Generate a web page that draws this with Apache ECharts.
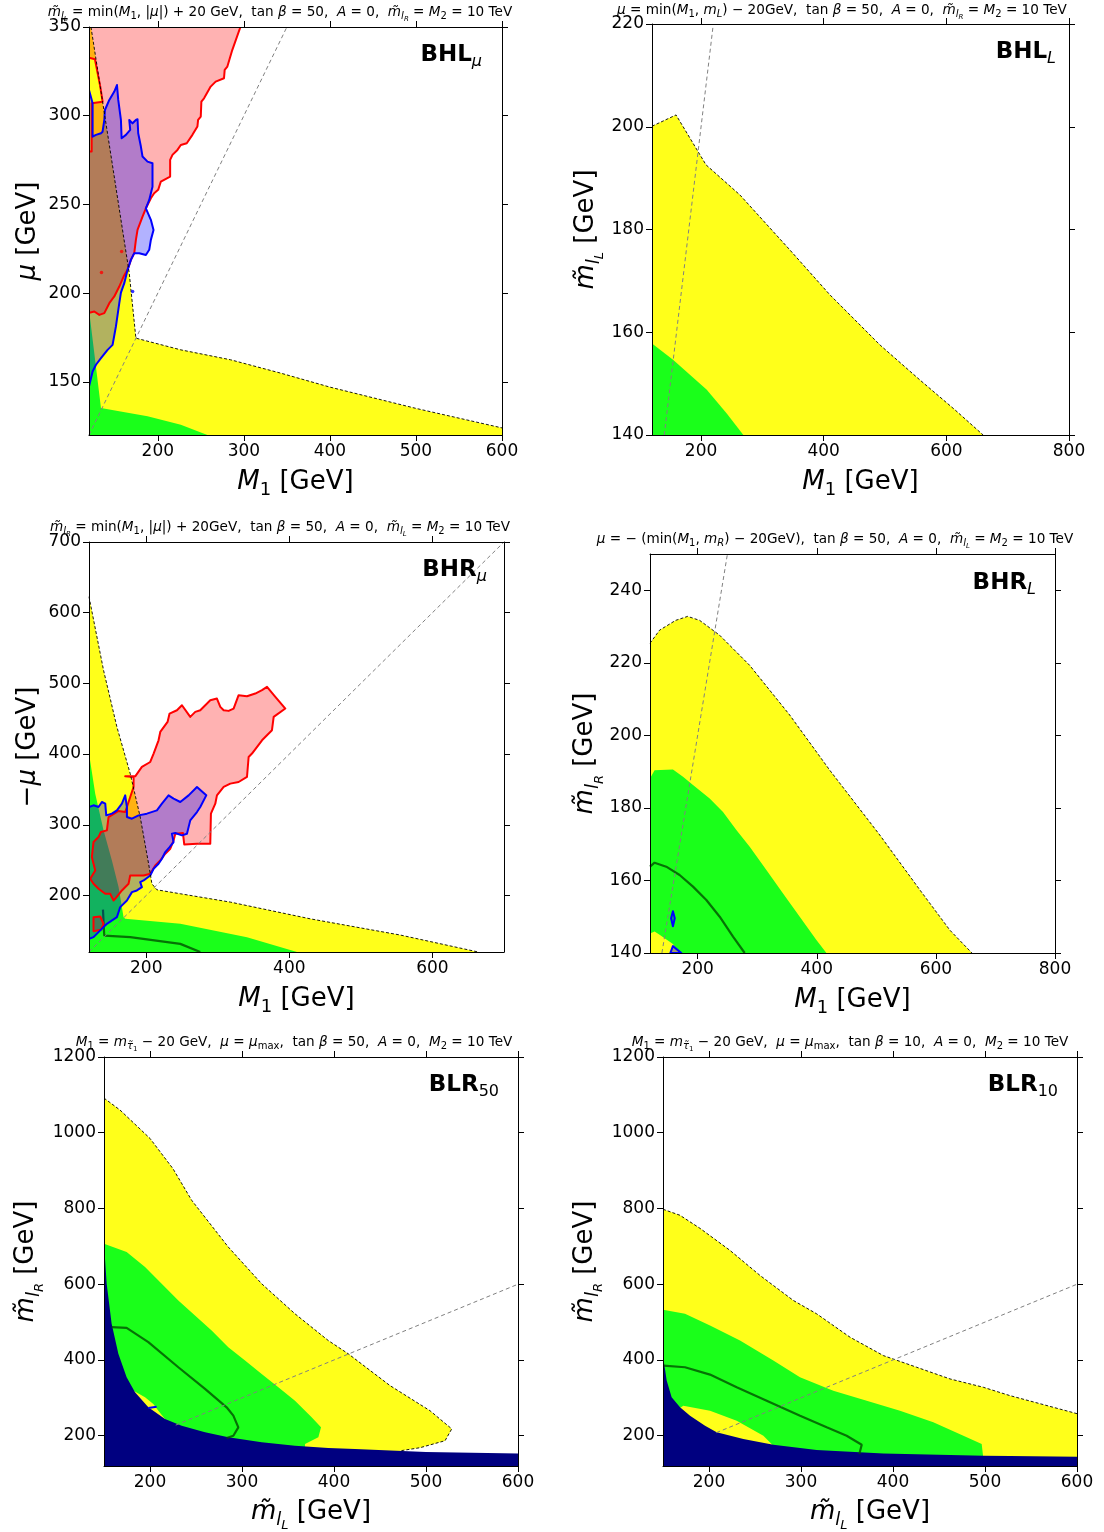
<!DOCTYPE html>
<html>
<head>
<meta charset="utf-8">
<script src="https://cdn.jsdelivr.net/npm/echarts@6/dist/echarts.min.js"></script>
<style>
html,body{margin:0;padding:0;background:#fff;}
#chart{width:1104px;height:1532px;}
</style>
</head>
<body>
<div id="chart"></div>
<script>
// ---------- tick values ----------
const bhlMuXTicks = [200, 300, 400, 500, 600];
const bhlMuYTicks = [150, 200, 250, 300, 350];
const bhlLXTicks = [200, 400, 600, 800];
const bhlLYTicks = [140, 160, 180, 200, 220];
const bhrMuXTicks = [200, 400, 600];
const bhrMuYTicks = [200, 300, 400, 500, 600, 700];
const bhrLXTicks = [200, 400, 600, 800];
const bhrLYTicks = [140, 160, 180, 200, 220, 240];
const blrXTicks = [200, 300, 400, 500, 600];
const blrYTicks = [200, 400, 600, 800, 1000, 1200];

// ---------- BHL_mu : (M1, mu) ----------
const bhlMuEdge = [[122.3,350],[166.8,211.2],[174.5,174.6],[226.7,168.0],[284.6,162.4],[342.6,154.9],[400,147],[500,135],[600,124]];
const bhlMuGreen = [[120,190.6],[133.9,135.2],[160,133],[188,130.5],[226.7,125.8],[257.6,120],[120,120]];
const bhlMuRed = [[120,350],[296,350],[286.5,337],[280.8,327.7],[277.7,325.8],[276.9,321.1],[267.2,319.2],[261.4,316.4],[253.7,309.8],[250.6,307.9],[249.9,299.5],[246.8,297.6],[246.0,293.9],[240.2,289.2],[233.6,284.5],[226.7,283.5],[222.8,280.7],[217.0,277.9],[214.3,275.1],[214.3,265.7],[203.5,262.9],[200.4,258.2],[195.7,256.3],[191.9,253.5],[186.1,247.8],[182.2,243.1],[176.4,235.6],[174.5,230.0],[172.6,222.5],[168.7,218.7],[164.8,213.1],[160.2,209.3],[155.2,203.7],[149.4,198.1],[143.6,194.3],[137.8,188.7],[132.0,187.7],[126.2,189.6],[121.5,189.1],[120,189.1],[120,279.8],[123.1,279.8],[123.1,307.0],[135.8,307.9],[133.1,316.4],[129.3,325.8],[126.9,331.8],[120,332.7]];
const bhlMuBlue = [[120,314.5],[124.2,307.0],[124.2,288.2],[128.1,289.2],[133.9,290.1],[135.8,291.0],[137.8,297.6],[138.5,303.2],[143.6,308.9],[149.4,313.6],[152.5,317.3],[154.0,308.9],[157.1,297.6],[157.9,287.3],[162.9,289.2],[167.9,292.0],[166.8,297.6],[170.6,295.7],[174.5,297.6],[176.4,298.0],[177.2,290.1],[180.3,282.6],[182.2,277.0],[188.0,274.1],[193.8,273.2],[193.8,260.0],[190.0,252.5],[186.1,247.8],[191.9,241.3],[195.0,235.6],[191.9,230.0],[190.0,224.4],[186.1,221.5],[178.4,222.5],[172.6,222.5],[168.7,218.7],[164.8,213.1],[161.0,205.6],[157.1,200.3],[155.2,194.3],[151.3,181.2],[147.4,170.8],[141.6,168.0],[133.9,163.3],[128.1,159.6],[124.2,155.8],[120,147.4]];
const bhlMuRedDots = [[157.9,223.4],[134.5,211.6]];
const bhlMuBlueDots = [[170.7,200.9]];
const bhlMuDiagonal = [[120,120],[350,350]];

// ---------- BHL_L : (M1, m_lL) ----------
const bhlLEdge = [[120,200.1],[159.2,202.3],[208,192.6],[263.6,186.7],[345,176],[410,167.3],[492,157.5],[557,150.7],[614,144.9],[660,140]];
const bhlLGreen = [[120,157.8],[154.8,154.6],[209.3,148.8],[241.9,144.2],[269,140],[120,140]];
const bhlLDiagonal = [[140,140],[220,220]];

// ---------- BHR_mu : (M1, -mu) ----------
const bhrMuEdge = [[120,622.6],[140.3,518.7],[159,438.4],[177.6,372.3],[191.6,310.9],[203.3,244.8],[207.9,216.5],[214.9,208],[247.6,202.4],[317.5,190.6],[429.4,166.9],[555,144],[664,120]];
const bhrMuGreen = [[120,400.7],[128.7,344],[140.3,292.1],[152,249.6],[161.3,211.8],[168.3,169.3],[170.6,166.9],[247.6,159.9],[340.8,141],[410.7,120],[120,120]];
const bhrMuContour = [[139.5,180],[141.3,143.3],[177.6,141],[247.6,131.5],[275.5,120]];
const bhrMuRed = [[170.6,368.5],[184.6,368.5],[193.9,381.8],[205.6,388.8],[210.3,400.7],[217.2,419.5],[219.6,431.3],[229.8,445.5],[232.6,457.3],[242.9,462.0],[249.9,469.1],[261.5,452.6],[268.5,459.7],[275.5,462.0],[289.5,476.2],[298.8,478.6],[303.5,466.8],[308.2,462.0],[315.1,461.1],[322.1,464.4],[329.1,483.3],[340.8,481.9],[352.4,485.6],[361.8,490.4],[368.8,495.1],[380.4,481.0],[394.4,464.4],[378.1,452.6],[375.7,433.7],[361.8,419.5],[347.8,400.7],[343.1,395.9],[340.8,367.6],[329.1,360.5],[317.5,358.2],[308.2,353.5],[298.8,341.6],[296.5,329.8],[290.4,315.7],[289.5,273.2],[270.9,273.2],[253.1,272.2],[251.3,288.3],[240.6,287.3],[238.2,277.9],[233.6,266.1],[226.6,259.0],[219.6,249.6],[212.6,242.5],[205.6,230.7],[196.3,228.3],[177.6,228.3],[175.3,216.5],[166.0,207.1],[156.6,195.3],[154.3,192.9],[149.6,202.4],[142.7,202.4],[133.3,209.4],[126.3,216.5],[121.7,223.6],[128.7,235.4],[124.0,254.3],[126.3,275.5],[133.3,282.6],[136.6,289.7],[145.0,292.1],[147.3,310.9],[161.3,319.5],[170.6,318.0],[173.0,325.1],[177.6,339.3],[182.3,353.4],[182.3,367.6]];
const bhrMuRedLoop = [[126.3,169.3],[135.7,170.2],[140.3,159.9],[136.6,151.4],[126.3,149.5]];
const bhrMuBlue = [[120,325.1],[126.3,327.5],[133.3,325.1],[138.0,332.2],[142.7,329.8],[144.1,313.3],[152.0,315.7],[159.0,320.4],[166.0,329.8],[170.6,341.6],[173.0,325.1],[173.0,310.9],[180.0,308.6],[189.3,313.3],[200.9,315.7],[214.9,320.4],[221.9,329.8],[231.2,341.6],[238.2,336.9],[247.6,332.2],[259.2,341.6],[270.9,353.4],[283.9,341.6],[275.5,325.1],[270.9,318.0],[261.5,306.2],[256.9,287.3],[249.9,285.0],[240.6,288.3],[235.9,287.3],[238.2,275.5],[232.6,268.4],[226.6,261.4],[221.9,251.9],[217.2,244.8],[210.3,237.8],[205.6,228.3],[196.3,221.2],[191.6,218.9],[193.9,211.8],[186.9,207.1],[180.0,204.7],[173.0,192.9],[163.6,183.5],[159.0,169.3],[145.0,159.9],[140.3,155.2],[133.3,148.1],[126.3,141.0],[120,138.6]];
const bhrMuDiagonal = [[120,120],[700,700]];

// ---------- BHR_L : (M1, m_lR) ----------
const bhrLEdge = [[120,225.4],[136.1,229],[163,231.7],[183.2,232.8],[203.4,231.7],[237,227.6],[287.4,219.3],[354.6,205.6],[421.8,190.4],[505.9,172.5],[573.1,157.4],[623.5,146.3],[660.5,140]];
const bhrLGreen = [[120,188.1],[127.7,190.4],[158.5,190.6],[175.4,188.6],[192.2,186.3],[220.2,182.6],[242.6,178.9],[265,173.9],[287.4,169.3],[315.4,162.9],[343.4,156.4],[371.4,150],[399.4,143.6],[416.2,140],[169.7,140],[158.5,142.5],[136.1,145],[127.7,145.9],[120,145.4]];
const bhrLContour = [[120,163.8],[127.7,164.9],[147.3,163.8],[169.7,161.5],[192.2,158.3],[214.6,154.6],[237,150],[259.4,144.5],[279,140]];
const bhrLBlueA = [[158.5,151.5],[161.6,149.6],[158.5,147.4],[155.4,149.6]];
const bhrLBlueB = [[158.5,141.9],[172.5,140],[154.1,140]];
const bhrLDiagonal = [[140,140],[250,250]];

// ---------- BLR_50 : (m_lL, m_lR) ----------
const blr50Edge = [[150,1091.5],[167.4,1060],[200,985],[225,905],[245.3,821.7],[285.1,698.2],[321.4,601.2],[357.6,521.9],[393.8,451.3],[415.6,416.1],[460.9,332.3],[504.3,266.1],[528,218],[520.7,186.8],[493.5,168.3],[471.7,160]];
const blr50Green = [[150,707.1],[174.6,685],[194.6,645.3],[212.7,601.2],[230.8,557.2],[248.9,517.5],[267,477.8],[285.1,433.7],[303.3,398.4],[321.4,363.2],[339.5,327.9],[357.6,292.6],[375.7,248.5],[385.9,222.1],[383,195.6],[368.5,178],[368.5,150],[216.3,150],[216.3,244.1],[209.1,266.2],[203.6,283.8],[194.6,301.4],[183,317.3],[170,300],[150,300]];
const blr50Excluded = [[150,707.1],[152.9,601.2],[158.3,495.4],[165.6,416.1],[174.6,354.3],[183.7,314.7],[198.2,275],[216.3,244.1],[234.4,226.5],[259.8,208.8],[285.1,195.6],[321.4,182.4],[357.6,173.6],[393.8,167.4],[422.8,164.7],[500,157],[600,153]];
const blr50Contour = [[158.3,486.6],[174.6,484.8],[198.2,447],[230.8,380.8],[259.8,323.5],[283.3,275],[290.6,252.9],[296,222.1],[290.6,200],[283.3,193.8]];
const blr50Blue = [[198.2,273.2],[207.2,276.7]];
const blr50Diagonal = [[228,228],[600,600]];

// ---------- BLR_10 : (m_lL, m_lR) ----------
const blr10Edge = [[150,798],[168.5,782],[190.2,747.6],[222.8,689.4],[255.4,623.3],[291.7,557.1],[317,521.9],[353.3,460.1],[389.5,411.6],[425.7,380.8],[462,349.9],[498.2,327.9],[527.2,305.8],[600,258.2]];
const blr10Green = [[150,532.4],[173.9,521.9],[201.1,491],[233.7,451.3],[269.9,398.4],[298.9,354.3],[335.1,319],[371.4,292.6],[407.6,266.1],[443.8,235.3],[476.5,200],[496.4,177.9],[498.2,140],[269.9,140],[269.9,173.5],[259.1,200],[230.1,239.7],[201.1,266.1],[172.1,279.4],[160,260],[150,260]];
const blr10Excluded = [[150,410],[154,345.5],[159.4,301.4],[168.5,274.9],[179.4,252.9],[195.7,226.5],[208.3,208.8],[237.3,191.2],[269.9,176.2],[317,162.1],[389.5,153.3],[498.2,147.1],[527.2,146.2],[600,144.4]];
const blr10Contour = [[150.4,385.2],[173.9,380.8],[201.1,361.4],[230.1,327.9],[262.7,292.6],[299,252.9],[327.9,222.1],[349.6,200],[366,176.2],[363.4,151.5]];
const blr10Diagonal = [[208,208],[600,600]];

// ---------- styling ----------
const FONT = "'DejaVu Sans', sans-serif";
const YELLOW = '#ffff1a';
const GREEN = '#1aff1a';
const NAVY = '#000080';
const RED_FILL = 'rgba(255,0,0,0.3)';
const BLUE_FILL = 'rgba(0,0,255,0.3)';

function richSet(base) {
  const sub = Math.round(base * 0.7);
  const sub2 = Math.round(base * 0.5);
  const f = (o) => Object.assign({ fontFamily: FONT, color: '#000', fontSize: base }, o);
  return {
    n: f({}),
    i: f({ fontStyle: 'italic' }),
    b: f({ fontWeight: 'bold' }),
    s: f({ fontSize: sub, fontStyle: 'italic', padding: [Math.round(base * 0.6), 0, 0, 0] }),
    sn: f({ fontSize: sub, padding: [Math.round(base * 0.6), 0, 0, 0] }),
    ss: f({ fontSize: sub2, fontStyle: 'italic', padding: [Math.round(base * 1.05), 0, 0, 0] }),
    ssn: f({ fontSize: sub2, padding: [Math.round(base * 1.05), 0, 0, 0] })
  };
}
const richTitle = richSet(13.6);
const richAxisName = richSet(26);
const richPanel = richSet(23);

const NAME_M1 = '{i|M}{sn|1}{n| [GeV]}';
const NAME_MU = '{i|μ}{n| [GeV]}';
const NAME_MINUS_MU = '{n|−}{i|μ}{n| [GeV]}';
const NAME_ML = '{i|m̃}{s|l}{ss|L}{n| [GeV]}';
const NAME_MR = '{i|m̃}{s|l}{ss|R}{n| [GeV]}';

const panels = [
  { grid: { left: 89, top: 27, width: 413, height: 408 }, x: [120, 600], y: [120, 350], xt: bhlMuXTicks, yt: bhlMuYTicks, xn: NAME_M1, yn: NAME_MU, xg: 30, yg: 48 },
  { grid: { left: 652, top: 24, width: 417, height: 411 }, x: [120, 800], y: [140, 220], xt: bhlLXTicks, yt: bhlLYTicks, xn: NAME_M1, yn: NAME_ML, xg: 30, yg: 46 },
  { grid: { left: 89, top: 542, width: 415, height: 410 }, x: [120, 700], y: [120, 700], xt: bhrMuXTicks, yt: bhrMuYTicks, xn: NAME_M1, yn: NAME_MINUS_MU, xg: 30, yg: 48 },
  { grid: { left: 650, top: 554, width: 405, height: 399 }, x: [120, 800], y: [140, 250], xt: bhrLXTicks, yt: bhrLYTicks, xn: NAME_M1, yn: NAME_MR, xg: 30, yg: 44 },
  { grid: { left: 104, top: 1057, width: 414, height: 409 }, x: [150, 600], y: [120, 1200], xt: blrXTicks, yt: blrYTicks, xn: NAME_ML, yn: NAME_MR, xg: 26, yg: 58 },
  { grid: { left: 663, top: 1057, width: 414, height: 409 }, x: [150, 600], y: [120, 1200], xt: blrXTicks, yt: blrYTicks, xn: NAME_ML, yn: NAME_MR, xg: 26, yg: 58 }
];

function makeAxis(g, range, ticks, position, labelled, name, gap) {
  const a = {
    type: 'value', gridIndex: g, min: range[0], max: range[1], position: position, z: 20,
    axisLine: { show: true, onZero: false, lineStyle: { color: '#000', width: 1 } },
    axisTick: { show: true, inside: false, length: 6, customValues: ticks, lineStyle: { color: '#000', width: 1 } },
    axisLabel: {
      show: labelled, customValues: ticks, fontSize: 17, fontFamily: FONT, color: '#000', margin: 8,
      formatter: (v) => String(v)
    },
    splitLine: { show: false }
  };
  if (name) {
    a.name = name;
    a.nameLocation = 'middle';
    a.nameGap = gap;
    a.nameTextStyle = { rich: richAxisName };
  }
  return a;
}

const grids = [], xAxes = [], yAxes = [];
panels.forEach((p, g) => {
  grids.push(Object.assign({ containLabel: false, outerBoundsMode: 'none', show: false }, p.grid));
  xAxes.push(makeAxis(g, p.x, p.xt, 'bottom', true, p.xn, p.xg));
  xAxes.push(makeAxis(g, p.x, p.xt, 'top', false));
  yAxes.push(makeAxis(g, p.y, p.yt, 'left', true, p.yn, p.yg));
  yAxes.push(makeAxis(g, p.y, p.yt, 'right', false));
});

// closed polygon drawn through the cartesian scales of panel g
function area(g, pts, fill, stroke, lw, z) {
  return {
    type: 'custom', coordinateSystem: 'cartesian2d', xAxisIndex: 2 * g, yAxisIndex: 2 * g,
    data: pts, clip: true, z: z, silent: true, animation: false,
    encode: { x: 0, y: 1 },
    renderItem: function (params, api) {
      if (params.dataIndex !== 0) return null;
      const points = pts.map((q) => api.coord(q));
      return {
        type: 'polygon', shape: { points: points },
        style: { fill: fill || 'none', stroke: stroke || 'none', lineWidth: lw || 0, lineJoin: 'round' }
      };
    }
  };
}
function curve(g, pts, color, width, dash, z) {
  return {
    type: 'line', xAxisIndex: 2 * g, yAxisIndex: 2 * g, data: pts, symbol: 'none', clip: true,
    z: z, silent: true, animation: false,
    lineStyle: { color: color, width: width, type: dash || 'solid' }
  };
}
function dots(g, pts, color, z) {
  return {
    type: 'scatter', xAxisIndex: 2 * g, yAxisIndex: 2 * g, data: pts, symbolSize: 3.5, z: z,
    silent: true, animation: false, itemStyle: { color: color }
  };
}
const EDGE = (g, pts) => curve(g, pts, '#000', 0.9, [3, 2], 8);
const DIAG = (g, pts) => curve(g, pts, '#808080', 1, [4, 3], 9);
const CONTOUR = (g, pts) => curve(g, pts, 'rgba(0,80,0,0.8)', 2.2, 'solid', 4);
// fills first, outlines afterwards (red outline below blue outline)
const RED_AREA = (g, pts) => area(g, pts, RED_FILL, null, 0, 5);
const BLUE_AREA = (g, pts) => area(g, pts, BLUE_FILL, null, 0, 6);
const RED_RIM = (g, pts) => area(g, pts, null, 'red', 2, 7);
const BLUE_RIM = (g, pts) => area(g, pts, null, 'blue', 2, 7.5);

const series = [
  // BHL_mu
  area(0, [[120, 350]].concat(bhlMuEdge, [[600, 120], [120, 120]]), YELLOW, null, 0, 1),
  area(0, bhlMuGreen, GREEN, null, 0, 2),
  RED_AREA(0, bhlMuRed),
  BLUE_AREA(0, bhlMuBlue),
  RED_RIM(0, bhlMuRed),
  BLUE_RIM(0, bhlMuBlue),
  EDGE(0, bhlMuEdge),
  DIAG(0, bhlMuDiagonal),
  dots(0, bhlMuRedDots, 'red', 10),
  dots(0, bhlMuBlueDots, 'blue', 10),
  // BHL_L
  area(1, bhlLEdge.concat([[120, 140]]), YELLOW, null, 0, 1),
  area(1, bhlLGreen, GREEN, null, 0, 2),
  EDGE(1, bhlLEdge),
  DIAG(1, bhlLDiagonal),
  // BHR_mu
  area(2, bhrMuEdge.concat([[120, 120]]), YELLOW, null, 0, 1),
  area(2, bhrMuGreen, GREEN, null, 0, 2),
  CONTOUR(2, bhrMuContour),
  RED_AREA(2, bhrMuRed),
  RED_AREA(2, bhrMuRedLoop),
  BLUE_AREA(2, bhrMuBlue),
  RED_RIM(2, bhrMuRed),
  RED_RIM(2, bhrMuRedLoop),
  BLUE_RIM(2, bhrMuBlue),
  EDGE(2, bhrMuEdge),
  DIAG(2, bhrMuDiagonal),
  // BHR_L
  area(3, bhrLEdge.concat([[120, 140]]), YELLOW, null, 0, 1),
  area(3, bhrLGreen, GREEN, null, 0, 2),
  CONTOUR(3, bhrLContour),
  area(3, bhrLBlueA, BLUE_FILL, 'blue', 2, 6),
  area(3, bhrLBlueB, 'rgba(90,90,160,0.6)', 'blue', 2, 6),
  EDGE(3, bhrLEdge),
  DIAG(3, bhrLDiagonal),
  // BLR_50
  area(4, blr50Edge.concat([[471.7, 120], [150, 120]]), YELLOW, null, 0, 1),
  area(4, blr50Green, GREEN, null, 0, 2),
  area(4, blr50Excluded.concat([[600, 120], [150, 120]]), NAVY, null, 0, 3),
  CONTOUR(4, blr50Contour),
  curve(4, blr50Blue, 'blue', 2, 'solid', 6),
  EDGE(4, blr50Edge),
  DIAG(4, blr50Diagonal),
  // BLR_10
  area(5, blr10Edge.concat([[600, 120], [150, 120]]), YELLOW, null, 0, 1),
  area(5, blr10Green, GREEN, null, 0, 2),
  area(5, blr10Excluded.concat([[600, 120], [150, 120]]), NAVY, null, 0, 3),
  CONTOUR(5, blr10Contour),
  EDGE(5, blr10Edge),
  DIAG(5, blr10Diagonal)
];

// headings above each panel and panel tags
const headings = [
  { x: 280, y: 12, t: '{i|m̃}{s|l}{ss|L}{n| = min(}{i|M}{sn|1}{n|, |}{i|μ}{n||) + 20 GeV,  tan }{i|β}{n| = 50,  }{i|A}{n| = 0,  }{i|m̃}{s|l}{ss|R}{n| = }{i|M}{sn|2}{n| = 10 TeV}' },
  { x: 842, y: 10, t: '{i|μ}{n| = min(}{i|M}{sn|1}{n|, }{i|m}{s|L}{n|) − 20GeV,  tan }{i|β}{n| = 50,  }{i|A}{n| = 0,  }{i|m̃}{s|l}{ss|R}{n| = }{i|M}{sn|2}{n| = 10 TeV}' },
  { x: 280, y: 527, t: '{i|m̃}{s|l}{ss|R}{n| = min(}{i|M}{sn|1}{n|, |}{i|μ}{n||) + 20GeV,  tan }{i|β}{n| = 50,  }{i|A}{n| = 0,  }{i|m̃}{s|l}{ss|L}{n| = }{i|M}{sn|2}{n| = 10 TeV}' },
  { x: 835, y: 539, t: '{i|μ}{n| = − (min(}{i|M}{sn|1}{n|, }{i|m}{s|R}{n|) − 20GeV),  tan }{i|β}{n| = 50,  }{i|A}{n| = 0,  }{i|m̃}{s|l}{ss|L}{n| = }{i|M}{sn|2}{n| = 10 TeV}' },
  { x: 294, y: 1042, t: '{i|M}{sn|1}{n| = }{i|m}{s|τ̃}{ssn|1}{n| − 20 GeV,  }{i|μ}{n| = }{i|μ}{sn|max}{n|,  tan }{i|β}{n| = 50,  }{i|A}{n| = 0,  }{i|M}{sn|2}{n| = 10 TeV}' },
  { x: 850, y: 1042, t: '{i|M}{sn|1}{n| = }{i|m}{s|τ̃}{ssn|1}{n| − 20 GeV,  }{i|μ}{n| = }{i|μ}{sn|max}{n|,  tan }{i|β}{n| = 10,  }{i|A}{n| = 0,  }{i|M}{sn|2}{n| = 10 TeV}' }
];
const tags = [
  { x: 482, y: 55, t: '{b|BHL}{s|μ}' },
  { x: 1056, y: 52, t: '{b|BHL}{s|L}' },
  { x: 487, y: 570, t: '{b|BHR}{s|μ}' },
  { x: 1036, y: 583, t: '{b|BHR}{s|L}' },
  { x: 499, y: 1085, t: '{b|BLR}{sn|50}' },
  { x: 1058, y: 1085, t: '{b|BLR}{sn|10}' }
];
const graphics = [];
headings.forEach((h) => graphics.push({
  type: 'text', x: h.x, y: h.y, z: 30,
  style: { text: h.t, rich: richTitle, align: 'center', verticalAlign: 'middle', textAlign: 'center', textVerticalAlign: 'middle' }
}));
tags.forEach((h) => graphics.push({
  type: 'text', x: h.x, y: h.y, z: 30,
  style: { text: h.t, rich: richPanel, align: 'right', verticalAlign: 'middle', textAlign: 'right', textVerticalAlign: 'middle' }
}));

const chart = echarts.init(document.getElementById('chart'), null, { renderer: 'canvas' });
chart.setOption({
  backgroundColor: '#fff',
  animation: false,
  grid: grids,
  xAxis: xAxes,
  yAxis: yAxes,
  series: series,
  graphic: graphics
});
</script>
</body>
</html>
